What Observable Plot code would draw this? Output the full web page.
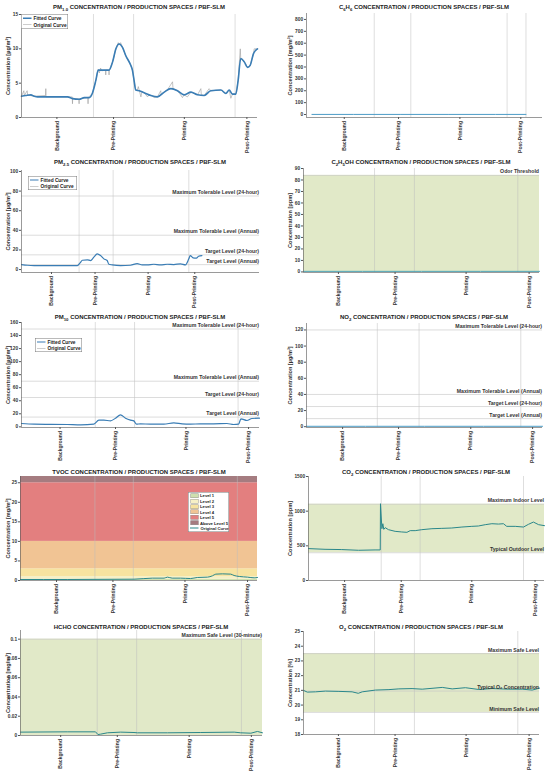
<!DOCTYPE html>
<html><head><meta charset="utf-8">
<script src="https://cdn.jsdelivr.net/npm/d3@7"></script>
<script src="https://cdn.jsdelivr.net/npm/@observablehq/plot@0.6"></script>
<style>
body{margin:0;background:#fff;}
#root{position:relative;width:550px;height:774px;overflow:hidden;font-family:"Liberation Sans",Arial,sans-serif;}
.panel{position:absolute;}
.title{position:absolute;font-weight:bold;font-size:12px;line-height:12px;color:#222;white-space:nowrap;transform:translateX(-50%) scale(0.5);transform-origin:50% 0;}
.title sub{font-size:8.6px;vertical-align:-3px;line-height:0;}
.legend{position:absolute;background:#fff;border:1px solid #777;font-weight:bold;color:#222;padding:1px 2px 1px 3px;box-sizing:border-box;overflow:hidden;transform:scale(0.5);transform-origin:0 0;}
.legend .row{display:flex;align-items:center;white-space:nowrap;}
.sw{display:inline-block;flex:none;}
</style>
</head><body><div id="root"></div>
<script>
// ---------- DATA ----------
const phases = ["Background", "Pre-Printing", "Printing", "Post-Printing"];

const pm1Fitted = [[0,3.1],[1.8,3.2],[4,3.3],[5.4,3.1],[6.8,3.0],[12.4,3.0],[19.5,3.0],[21.6,2.75],[24.4,2.65],[26.6,2.9],[28.7,2.9],[30,3.5],[31.5,5.4],[32.5,6.9],[33.6,6.9],[37.1,6.9],[38.6,8.1],[40,10],[41.4,10.7],[42.8,10.2],[44.2,9.0],[46.3,7.6],[47,6.9],[47.7,5.4],[48.4,4.0],[49.9,3.9],[52,3.6],[54.8,3.2],[57.6,3.0],[60.5,3.7],[63.3,4.2],[66.1,3.9],[68.9,3.3],[71.8,3.7],[74.6,3.3],[77.4,3.2],[80.2,3.9],[84.5,4.0],[86.6,3.5],[88,4.0],[89.4,3.4],[90.8,3.4],[91.8,5.4],[92.9,8.6],[94.4,8.1],[95.8,7.3],[96.9,7.6],[98.3,9.3],[100,10.0]];
const pm1Original = [[0,3.1],[1,3.9],[1.2,3.2],[2.4,3.9],[2.6,3.3],[5,3.1],[10.2,3.2],[10.3,4.2],[10.4,3.0],[20,3.0],[21.5,3.0],[21.6,2.0],[21.7,2.8],[24.3,2.7],[24.4,2.0],[24.5,2.7],[28.1,2.9],[28.2,2.0],[28.3,2.9],[30,3.5],[31.5,5.4],[32.5,7.0],[33,6.5],[33.5,7.2],[34,6.8],[35.6,6.9],[35.7,6.2],[35.8,6.9],[37,6.9],[37.1,6.2],[37.2,6.9],[38.6,8.1],[40,10],[41,10.9],[41.4,10.6],[42,10.9],[42.8,10.2],[44.2,9],[46.3,7.6],[47,6.9],[47.7,5.4],[48.4,4.0],[49,3.9],[49.5,4.5],[50,3.8],[50.6,3.0],[51,3.7],[52,3.6],[53.4,3.0],[54,3.3],[55,3.2],[56.2,2.9],[57.6,3.0],[59,3.9],[59.2,3.3],[60.5,3.7],[62,4.1],[64,5.2],[64.2,4.2],[66.1,3.9],[67,3.5],[68.2,2.9],[68.9,3.3],[70.3,3.0],[71.8,3.7],[74.6,3.3],[76,4.2],[76.2,3.3],[77.4,3.2],[79.5,4.2],[80.2,3.9],[84.5,4.0],[86.6,3.5],[88,4.0],[88.7,2.8],[89.4,3.4],[90.8,3.4],[91.8,5.4],[92.7,10.0],[92.9,8.6],[94.4,8.1],[95.8,7.3],[96.9,7.6],[98.3,9.3],[98.6,10.0],[100,10.0]];
const c6h6Values = [[2.3,1],[20,1],[40,1],[60,1],[80,1],[93,1]];
const pm25Fitted = [[0,5.1],[2.5,4.4],[5.3,4.1],[12.3,4.1],[19.3,4.1],[23.5,4.1],[24.6,6.8],[25.6,9.5],[27.7,9.9],[29,9.2],[30.4,12.6],[31.8,16],[33.2,14.3],[34.6,10.9],[36,9.2],[36.7,5.4],[38.1,4.8],[41.6,4.1],[45.8,4.4],[48.6,6.1],[50.7,4.8],[52.8,4.8],[55.6,5.4],[58.4,4.8],[61.2,5.4],[64,5.1],[66.8,5.8],[68.9,4.8],[70.3,10.9],[70.9,14.3],[72.1,11.9],[73.5,11.6],[74.4,13.6],[75.8,14.3]];
const c2h5ohValues = [[0,0.5],[25,0.5],[50,0.5],[75,0.5],[100,0.5]];
const pm10Fitted = [[0,5.1],[5.3,4.1],[19.3,3.6],[24.9,3.1],[30.4,4.1],[32.5,10.3],[34.6,10.3],[37.4,9.2],[39.5,13.3],[41.6,18.5],[43.7,13.3],[45.8,10.3],[47.2,9.2],[48.3,4.1],[50,4.6],[54.2,4.1],[59.8,4.1],[64,6.2],[67.5,4.6],[71,4.1],[75.1,4.6],[80.7,4.6],[86.3,5.1],[89.1,3.6],[91.2,4.1],[92.2,12.3],[94.7,9.7],[96.8,12.8],[100,13.3]];
const no2Values = [[0,0.5],[25,0.5],[50,0.5],[75,0.5],[100,0.5]];
const tvocValues = [[0,0.26],[19.7,0.26],[47.9,0.34],[55.6,0.6],[60.6,0.6],[62,0.86],[64,0.6],[67.6,0.6],[71.8,0.5],[74.6,0.77],[78.9,0.86],[81,1.2],[82.4,1.63],[85.2,1.7],[88.7,1.63],[90.1,1.28],[92.3,1.03],[95.8,0.86],[98.6,0.68],[100,0.77]];
const co2Values = [[0,460],[7,450],[14.1,446],[21.2,436],[28.2,441],[30.4,441],[30.5,1107],[31.1,747],[31.5,819],[31.9,738],[32.5,762],[33.9,733],[36.7,709],[39.5,700],[41.7,695],[43.1,719],[45.2,719],[48,733],[52.3,747],[56.5,752],[60.7,757],[65,771],[69.2,781],[72,786],[74.9,805],[77.7,819],[80.5,814],[82.6,819],[84,781],[87.6,781],[91.1,771],[93.2,810],[95.3,843],[97.5,805],[100,791]];
const hchoValues = [[0,0.0035],[19.3,0.0038],[31,0.0038],[32,0.001],[33.1,0.0014],[35.9,0.0028],[41.4,0.0035],[46.9,0.0031],[48.3,0.0028],[60.7,0.0028],[74.5,0.0031],[88.3,0.0035],[91,0.0028],[95.2,0.0024],[97.9,0.0042],[100,0.0028]];
const o2Values = [[0,21.0],[1.6,20.88],[5.1,20.9],[9.3,20.95],[15,20.93],[20.6,20.9],[23.2,20.8],[24.9,20.9],[30.5,21.02],[36.2,21.05],[40.4,21.1],[46,21.12],[50.3,21.08],[58.8,21.2],[63,21.1],[68.6,21.18],[74.3,21.06],[79.9,21.12],[87,21.08],[92.7,21.08],[96.9,21.02],[100,21.15]];

const pm25Refs = [{v:75,label:"Maximum Tolerable Level (24-hour)"},{v:35,label:"Maximum Tolerable Level (Annual)"},{v:15,label:"Target Level (24-hour)"},{v:5,label:"Target Level (Annual)"}];
const pm10Refs = [{v:150,label:"Maximum Tolerable Level (24-hour)"},{v:70,label:"Maximum Tolerable Level (Annual)"},{v:45,label:"Target Level (24-hour)"},{v:15,label:"Target Level (Annual)"}];
const no2Refs = [{v:120,label:"Maximum Tolerable Level (24-hour)"},{v:40,label:"Maximum Tolerable Level (Annual)"},{v:25,label:"Target Level (24-hour)"},{v:10,label:"Target Level (Annual)"}];
const c2h5ohRefs = [{v:84,label:"Odor Threshold"}];
const co2Refs = [{v:1100,label:"Maximum Indoor Level"},{v:400,label:"Typical Outdoor Level"}];
const hchoRefs = [{v:0.1,label:"Maximum Safe Level (30-minute)"}];
const o2Refs = [{v:23.5,label:"Maximum Safe Level"},{v:20.95,label:"Typical O₂ Concentration"},{v:19.5,label:"Minimum Safe Level"}];

const tvocLevels = ["Level 1","Level 2","Level 3","Level 4","Level 5","Above Level 5"];
const tvocLo = [0, 0.3, 1, 3, 10, 25];
const tvocHi = [0.3, 1, 3, 10, 25, 26.6];

// ---------- STYLE / LAYOUT ----------
const green = "#e1e9c8";
const tvocColors = ["#cfe0ae","#f6f0c6","#f7e3a0","#f1c494","#e37f7f","#a57c80"];
const blue = "#3a7db5", teal = "#2a878a", flat = "#4b9cc6", grey = "#9a9a9a";

const panels = [
 {title:"PM<sub>1.0</sub> CONCENTRATION / PRODUCTION SPACES / PBF-SLM", col:0,row:0, plot:[21,257,14,117], yd:[0,15], yt:[0,5,10,15], yl:"Concentration [µg/m³]",
  ticks:[15,39,69,95.5], bounds:[30.5,47.5,90.5],
  series:[{d:pm1Original,stroke:grey,w:0.6,curve:"linear"},{d:pm1Fitted,stroke:blue,w:1.6,curve:"monotone-x"}],
  legend:{x:21,y:14,w:47,h:15,fs:4.8,items:[["line",blue,1.6,"Fitted Curve"],["line",grey,0.7,"Original Curve"]]}},
 {title:"C<sub>6</sub>H<sub>6</sub> CONCENTRATION / PRODUCTION SPACES / PBF-SLM", col:275,row:0, plot:[306,542,13,117], yd:[-25,850], yt:[0,100,200,300,400,500,600,700,800], yl:"Concentration [mg/m³]",
  ticks:[16,39,65,90.8], bounds:[28.7,44.2,85,93],
  series:[{d:c6h6Values,stroke:flat,w:1,curve:"linear"}]},
 {title:"PM<sub>2.5</sub> CONCENTRATION / PRODUCTION SPACES / PBF-SLM", col:0,row:155, plot:[21,259,170,272], yd:[-3,101], yt:[0,20,40,60,80,100], yl:"Concentration [µg/m³]",
  ticks:[12.6,30.9,53.2,72.8], bounds:[24.2,38.5,70.3], refs:pm25Refs,
  series:[{d:pm25Fitted,stroke:blue,w:1.2,curve:"monotone-x"}],
  legend:{x:28,y:176,w:49,h:14,fs:4.8,items:[["line",blue,1.4,"Fitted Curve"],["line",grey,0.7,"Original Curve"]]}},
 {title:"C<sub>2</sub>H<sub>5</sub>OH CONCENTRATION / PRODUCTION SPACES / PBF-SLM", col:275,row:155, plot:[303,539,168,272], yd:[-0.5,90], yt:[0,10,20,30,40,50,60,70,80,90], yl:"Concentration [ppm]",
  ticks:[14.8,38.8,68.9,95.6], bounds:[30.1,47,90.8], refs:c2h5ohRefs, bands:[{lo:0,hi:84,color:green}],
  series:[{d:c2h5ohValues,stroke:"#4aa0b2",w:1,curve:"linear"}]},
 {title:"PM<sub>10</sub> CONCENTRATION / PRODUCTION SPACES / PBF-SLM", col:0,row:310, plot:[21,259,322,427], yd:[-1,160], yt:[0,20,40,60,80,100,120,140,160], yl:"Concentration [µg/m³]",
  ticks:[16.2,39.5,69.1,95.4], bounds:[31,47.5,91], refs:pm10Refs,
  series:[{d:pm10Fitted,stroke:blue,w:1.2,curve:"monotone-x"}],
  legend:{x:35,y:338,w:47,h:14,fs:4.8,items:[["line",blue,1.4,"Fitted Curve"],["line",grey,0.7,"Original Curve"]]}},
 {title:"NO<sub>2</sub> CONCENTRATION / PRODUCTION SPACES / PBF-SLM", col:275,row:310, plot:[306,542,323,427], yd:[-1,128], yt:[0,20,40,60,80,100,120], yl:"Concentration [µg/m³]",
  ticks:[15.3,39,69.6,95.8], bounds:[30,47.7,90.8], refs:no2Refs,
  series:[{d:no2Values,stroke:flat,w:1,curve:"linear"}]},
 {title:"TVOC CONCENTRATION / PRODUCTION SPACES / PBF-SLM", col:0,row:465, plot:[20,257,476,580], yd:[0,26.6], yt:[0,5,10,15,20,25], yl:"Concentration [mg/m³]",
  ticks:[15.2,39,69.4,95.8], bounds:[31.4,47.6,91.5],
  bands: tvocLevels.map((l,i)=>({lo:tvocLo[i],hi:tvocHi[i],color:tvocColors[i]})),
  series:[{d:tvocValues,stroke:teal,w:1,curve:"monotone-x"}],
  legend:{x:188,y:492,w:41,h:40,fs:4.2,items:[...tvocLevels.map((l,i)=>["box",tvocColors[i],0,l]),["line",teal,1,"Original Curve"]]}},
 {title:"CO<sub>2</sub> CONCENTRATION / PRODUCTION SPACES / PBF-SLM", col:275,row:465, plot:[308,544,476,580], yd:[0,1500], yt:[0,500,1000,1500], yl:"Concentration [ppm]",
  ticks:[15.3,39.3,69.2,96], bounds:[30.8,47.3,91.1], refs:co2Refs, bands:[{lo:400,hi:1100,color:green}],
  series:[{d:co2Values,stroke:teal,w:1,curve:"linear"}]},
 {title:"HCHO CONCENTRATION / PRODUCTION SPACES / PBF-SLM", col:0,row:620, plot:[20,262,630,735], yd:[0,0.109], yt:[0,0.02,0.04,0.06,0.08,0.1], yl:"Concentration [mg/m³]",
  ticks:[16.6,40,69.7,95.4], bounds:[31.7,48,91.3], refs:hchoRefs, bands:[{lo:0,hi:0.1,color:green}],
  series:[{d:hchoValues,stroke:teal,w:1,curve:"linear"}]},
 {title:"O<sub>2</sub> CONCENTRATION / PRODUCTION SPACES / PBF-SLM", col:275,row:620, plot:[303,539,631,734], yd:[18,25], yt:[18,19,20,21,22,23,24,25], yl:"Concentration [%]",
  ticks:[14.8,38.8,68.9,95.6], bounds:[30.1,47,90.8], refs:o2Refs, bands:[{lo:19.5,hi:23.5,color:green}],
  series:[{d:o2Values,stroke:teal,w:1,curve:"linear"}]}
];

const root = document.getElementById("root");
const W = 275, H = 155;
const fmt = d3.format("~g");

for (const p of panels) {
  const ml = p.plot[0]-p.col, mr = p.col+W-p.plot[1], mt = p.plot[2]-p.row, mb = p.row+H-p.plot[3];
  const labelLeft = p.col === 0 ? 6 : 12.5;
  const tickLabel = new Map(p.ticks.map((t,i)=>[t, phases[i]]));
  const marks = [];
  if (p.bands) marks.push(Plot.rect(p.bands, {x1: () => 0, x2: () => 100, y1: "lo", y2: "hi", fill: "color"}));
  marks.push(Plot.ruleX(p.bounds, {stroke: "#bdbdbd", strokeWidth: 0.5}));
  if (p.refs) {
    marks.push(Plot.ruleY(p.refs, {y: "v", stroke: "#c4c4c4", strokeWidth: 0.6}));
  }
  for (const s of p.series) {
    marks.push(Plot.line(s.d, {x: d => d[0], y: d => d[1], stroke: s.stroke, strokeWidth: s.w, curve: s.curve}));
  }
  if (p.refs) {
    marks.push(Plot.text(p.refs, {y: "v", text: "label", frameAnchor: "right", textAnchor: "end", dy: -3.6, dx: -0.5, fontSize: 5.2, fontWeight: "bold", fill: "#333"}));
  }
  marks.push(
    Plot.ruleX([0], {stroke: "#555", strokeWidth: 0.6}),
    Plot.ruleY([p.yd[0]], {stroke: "#555", strokeWidth: 0.6}),
    Plot.axisY({ticks: p.yt, tickFormat: fmt, tickSize: 2, tickPadding: 1.4, fontSize: 4.8, label: null, stroke: "#555"}),
    Plot.axisY({ticks: [], label: p.yl, labelAnchor: "center", labelArrow: "none", labelOffset: ml - labelLeft, fontSize: 5.6}),
    Plot.axisX({ticks: p.ticks, tickFormat: d => tickLabel.get(d), tickRotate: -90, tickSize: 2, tickPadding: 1.5, fontSize: 5.1, label: null, stroke: "#555"})
  );
  const chart = Plot.plot({
    width: W, height: H,
    marginLeft: ml, marginRight: mr, marginTop: mt, marginBottom: mb,
    x: {domain: [0, 100]},
    y: {domain: p.yd},
    style: {fontFamily: "'Liberation Sans', Arial, sans-serif", fontSize: "5.5px", fontWeight: "bold", color: "#333", background: "transparent"},
    marks
  });
  const wrap = document.createElement("div");
  wrap.className = "panel";
  wrap.style.left = p.col + "px"; wrap.style.top = p.row + "px";
  wrap.appendChild(chart);
  root.appendChild(wrap);

  const t = document.createElement("div");
  t.className = "title";
  t.innerHTML = p.title;
  t.style.left = ((p.plot[0]+p.plot[1])/2) + "px";
  t.style.top = (p.row + 3.5) + "px";
  root.appendChild(t);

  if (p.legend) {
    // drawn at 2x and scaled by 0.5 so that tiny text is not clamped
    const L = p.legend, k = 2;
    const n = L.items.length;
    const lg = document.createElement("div");
    lg.className = "legend";
    lg.style.left = L.x + "px"; lg.style.top = L.y + "px";
    lg.style.width = (L.w * k) + "px"; lg.style.height = (L.h * k) + "px";
    lg.style.fontSize = (L.fs * k) + "px";
    const rh = (L.h * k - 4) / n;
    for (const [kind, color, w, label] of L.items) {
      const r = document.createElement("div");
      r.className = "row";
      r.style.height = rh + "px";
      const sw = document.createElement("span");
      sw.className = "sw";
      if (kind === "line") { sw.style.width = "17px"; sw.style.borderTop = (w * k) + "px solid " + color; sw.style.marginRight = "4px"; }
      else { sw.style.width = "14px"; sw.style.height = "7px"; sw.style.background = color; sw.style.border = "0.6px solid #999"; sw.style.marginLeft = "1px"; sw.style.marginRight = "3px"; }
      r.appendChild(sw);
      r.appendChild(document.createTextNode(label));
      lg.appendChild(r);
    }
    root.appendChild(lg);
  }
}
</script></body></html>
